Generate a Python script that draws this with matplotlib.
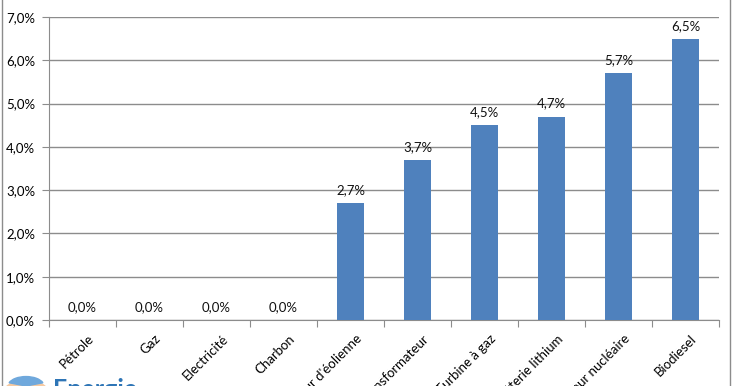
import matplotlib.pyplot as plt
import matplotlib.transforms as mtransforms
from matplotlib.lines import Line2D
from matplotlib.patches import Wedge
from matplotlib.ticker import FuncFormatter

categories = ['Pétrole', 'Gaz', 'Electricité', 'Charbon', "Moteur d'éolienne",
              'Transformateur', 'Turbine à gaz', 'Batterie lithium',
              'Réacteur nucléaire', 'Biodiesel']
values = [0.0, 0.0, 0.0, 0.0, 2.7, 3.7, 4.5, 4.7, 5.7, 6.5]

plt.rcParams['font.family'] = ['Lato', 'DejaVu Sans']

fig = plt.figure(figsize=(7.36, 3.86), dpi=100)
W, H = 736, 386
ax = fig.add_axes([49 / W, 66 / H, 670 / W, 303 / H])

x = range(len(categories))
bars = ax.bar(x, values, width=0.4, color='#4F81BD', zorder=3)

def pct(v, pos=None):
    return ('%.1f%%' % v).replace('.', ',')

for b, v in zip(bars, values):
    ax.annotate(pct(v), (b.get_x() + b.get_width() / 2, v),
                xytext=(0, 5), textcoords='offset points',
                ha='center', va='bottom', fontsize=9.5, color='#111111')

ax.set_xlim(-0.5, len(categories) - 0.5)
ax.set_ylim(0, 7)
ax.set_yticks(range(0, 8))
ax.yaxis.set_major_formatter(FuncFormatter(pct))
ax.yaxis.grid(True, color='#8c8c8c', linewidth=1, zorder=0)

# category boundaries get the tick marks, centers get the labels
ax.set_xticks([i - 0.5 for i in range(len(categories) + 1)])
ax.set_xticklabels([])
ax.set_xticks(list(x), minor=True)
ax.set_xticklabels(categories, minor=True, rotation=45, ha='right',
                   rotation_mode='anchor', fontsize=9.5)
ax.tick_params(axis='x', which='minor', length=0, pad=9)
ax.tick_params(axis='x', which='major', length=5, color='#8c8c8c')
ax.tick_params(axis='y', length=5, color='#8c8c8c', labelsize=9.5, pad=5)
shift = mtransforms.ScaledTranslation(5 / 100, 0, fig.dpi_scale_trans)
for lab in ax.get_xticklabels(minor=True):
    lab.set_transform(lab.get_transform() + shift)

for s in ['top', 'right']:
    ax.spines[s].set_visible(False)
for s in ['left', 'bottom']:
    ax.spines[s].set_color('#8c8c8c')

# outer frame of the screenshot
fig.add_artist(Line2D([2 / W, 2 / W], [0, 1], color='#8c8c8c', lw=1))
fig.add_artist(Line2D([730 / W, 730 / W], [0, 1], color='#8c8c8c', lw=1))

# cut-off site logo at the bottom
fig.add_artist(Wedge((26 / W, -6 / H), 22 / W, 0, 180, color='#f6c9a0',
                     transform=fig.transFigure))
fig.add_artist(Wedge((26 / W, 0 / H), 18 / W, 20, 160, color='#6fa8dc',
                     transform=fig.transFigure))
fig.text(53 / W, 1 - 378 / H, 'Energie', fontsize=18, fontweight='bold',
         color='#2E75B6', va='top', ha='left')

fig.savefig('out.png', dpi=100)
